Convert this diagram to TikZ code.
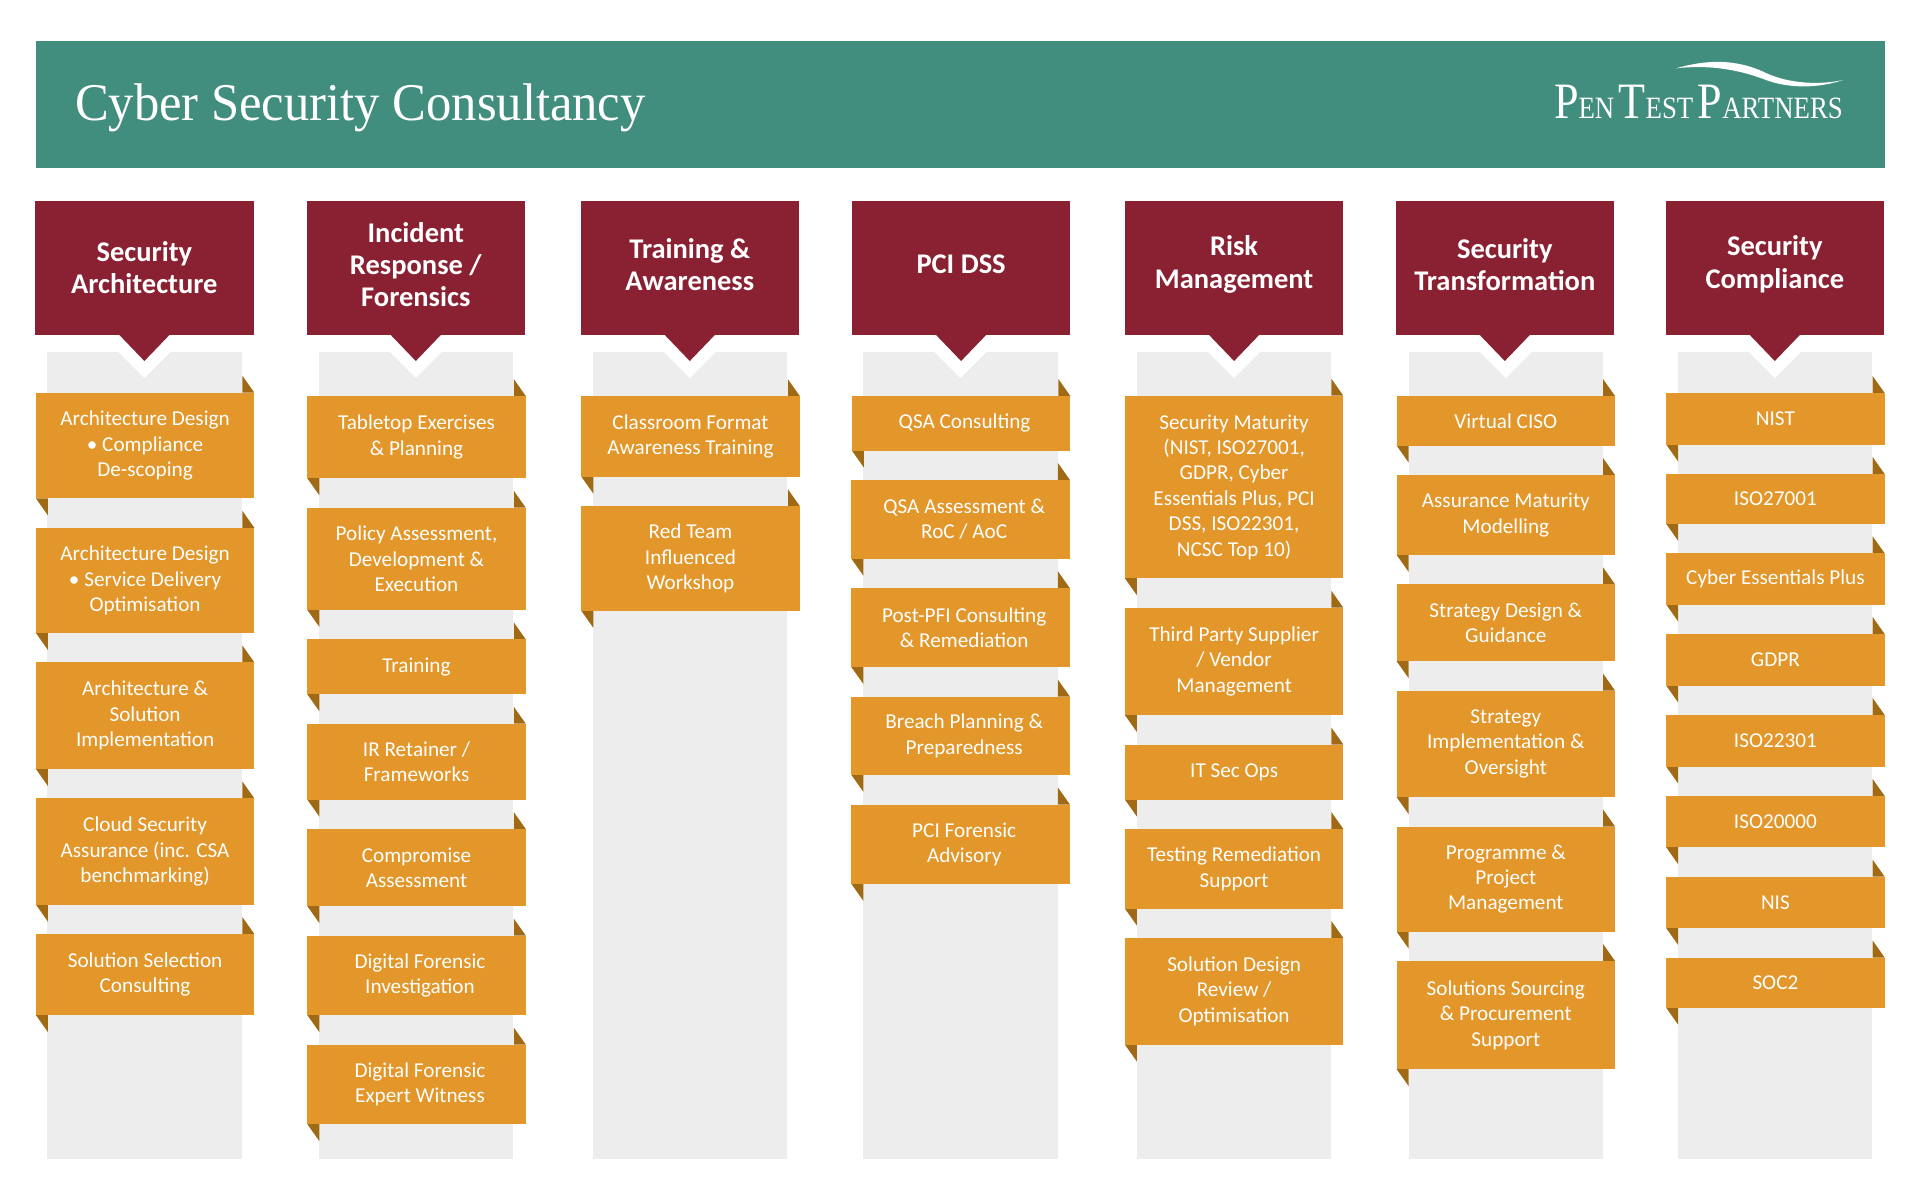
\documentclass[tikz,border=0pt]{standalone}
\usepackage{fontspec}
\setmainfont{Carlito}
\newfontfamily\titlefont[FakeStretch=0.955]{Liberation Serif}
\newfontfamily\brandfont[FakeStretch=0.865,WordSpace=0.4]{Liberation Serif}
\usepackage{xcolor}
\definecolor{teal}{HTML}{418E7E}
\definecolor{wine}{HTML}{8A2133}
\definecolor{amber}{HTML}{E39629}
\definecolor{crease}{HTML}{A06A14}
\definecolor{lanegray}{HTML}{EDEDED}
\usetikzlibrary{positioning,calc,backgrounds}
\tikzset{
  every node/.style={outer sep=0pt},
  banner/.style={fill=teal,minimum width=1849pt,minimum height=127pt,inner sep=0pt},
  maintitle/.style={text=white,inner sep=0pt,anchor=base west,font=\titlefont\fontsize{53}{60}\selectfont},
  brand/.style={text=white,inner sep=0pt,anchor=base west,font=\brandfont\fontsize{51}{60}\selectfont},
  colhead/.style={fill=wine,text=white,align=center,minimum width=218.5pt,minimum height=134pt,inner sep=0pt,
    text depth=7pt,font=\bfseries\fontsize{28.5}{32.2}\selectfont},
  lane/.style={fill=lanegray,minimum width=194.5pt,minimum height=807pt,inner sep=0pt},
  topic/.style={fill=amber,text=white,align=center,minimum width=218.5pt,minimum height=#1,inner sep=0pt,
    font=\fontsize{21.2}{25.4}\selectfont},
}
% pointer under a column head, and the white notch it leaves in the lane
\newcommand{\pointer}[1]{\fill[wine] ($(#1.south)+(-25,0)$) -- ($(#1.south)+(25,0)$) -- ($(#1.south)+(0,26)$) -- cycle;}
\newcommand{\notch}[1]{\fill[white] ($(#1.north)+(-26,0)$) -- ($(#1.north)+(26,0)$) -- ($(#1.north)+(0,26)$) -- cycle;}
% the two creases of a ribbon
\newcommand{\crease}[1]{%
  \fill[crease] (#1.north east) -- ($(#1.north east)+(-12,0)$) -- ($(#1.north east)+(-12,-17)$) -- cycle;
  \fill[crease] (#1.south west) -- ($(#1.south west)+(12,0)$) -- ($(#1.south west)+(12,17)$) -- cycle;}
\newcommand{\sm}[1]{{\fontsize{31}{31}\selectfont #1}}
\newcommand{\nudge}{\hspace*{7pt}}

\begin{document}
\begin{tikzpicture}[x=1pt,y=-1pt,node distance=29.5pt]
  \useasboundingbox (0,0) rectangle (1920,1200);
  \node[banner] (band) at (960.5,104.5) {};
  \node[maintitle] (title) at (75,120) {Cyber Security Consultancy};
  \node[brand] (logo) at (1554,118.7) {P\sm{EN} T\sm{EST} P\sm{ARTNERS}};
  \fill[white] (1676,68.3) .. controls (1705,60) and (1735,58) .. (1766,73) .. controls (1790,84) and (1820,85) .. (1843,80)
    .. controls (1820,88) and (1790,89) .. (1766,80) .. controls (1735,68) and (1705,65) .. (1676,68.3) -- cycle;

  % column heads
  \node[colhead,text depth=1pt] (sa) at (144.4,268) {Security\\Architecture};
  \node[colhead,right=52.9pt of sa] (ir) {Incident\\Response /\\Forensics};
  \node[colhead,right=55.5pt of ir] (ta) {Training \&\\Awareness};
  \node[colhead,right=52.8pt of ta] (pc) {PCI DSS};
  \node[colhead,text depth=12pt,right=54.5pt of pc] (rm) {Risk\\Management};
  \node[colhead,right=52.2pt of rm] (st) {Security\\Transformation};
  \node[colhead,text depth=12pt,right=51.5pt of st] (sc) {Security\\Compliance};
  \pointer{sa}\pointer{ir}\pointer{ta}\pointer{pc}\pointer{rm}\pointer{st}\pointer{sc}

  % security architecture
  \node[topic=105.6pt,below=57.7pt of sa,xshift=.7pt] (sa1) {Architecture Design\\• Compliance\\De-scoping};
  \node[topic=105.1pt,below=of sa1] (sa2) {Architecture Design\\• Service Delivery\\Optimisation};
  \node[topic=106.5pt,below=of sa2] (sa3) {Architecture \&\\Solution\\Implementation};
  \node[topic=106.1pt,below=of sa3] (sa4) {Cloud Security\\Assurance (inc. CSA\\benchmarking)};
  \node[topic=81pt,below=of sa4] (sa5) {Solution Selection\\Consulting};
  % incident response
  \node[topic=82.2pt,below=61pt of ir,xshift=.7pt] (ir1) {Tabletop Exercises\\\& Planning};
  \node[topic=102.1pt,below=of ir1] (ir2) {Policy Assessment,\\Development \&\\Execution};
  \node[topic=54.9pt,below=of ir2] (ir3) {Training};
  \node[topic=75.8pt,below=of ir3] (ir4) {IR Retainer /\\Frameworks};
  \node[topic=77pt,below=of ir4] (ir5) {Compromise\\Assessment};
  \node[topic=79.5pt,below=of ir5] (ir6) {\nudge Digital Forensic\\\nudge Investigation};
  \node[topic=79.5pt,below=of ir6] (ir7) {\nudge Digital Forensic\\\nudge Expert Witness};
  % training
  \node[topic=80.5pt,below=61pt of ta,xshift=.7pt] (ta1) {Classroom Format\\Awareness Training};
  \node[topic=104.7pt,below=of ta1] (ta2) {Red Team\\Influenced\\Workshop};
  % pci dss
  \node[topic=54.5pt,below=61pt of pc] (pc1) {\nudge QSA Consulting};
  \node[topic=78.8pt,below=of pc1,xshift=-.4pt] (pc2) {\nudge QSA Assessment \&\\\nudge RoC / AoC};
  \node[topic=78.9pt,below=of pc2] (pc3) {\nudge Post-PFI Consulting\\\nudge \& Remediation};
  \node[topic=78.3pt,below=of pc3] (pc4) {\nudge Breach Planning \&\\\nudge Preparedness};
  \node[topic=79.5pt,below=of pc4] (pc5) {\nudge PCI Forensic\\\nudge Advisory};
  % risk management
  \node[topic=182.5pt,below=60.7pt of rm] (rm1) {Security Maturity\\(NIST, ISO27001,\\GDPR, Cyber\\Essentials Plus, PCI\\DSS, ISO22301,\\NCSC Top 10)};
  \node[topic=107.3pt,below=of rm1] (rm2) {Third Party Supplier\\/ Vendor\\Management};
  \node[topic=55pt,below=of rm2] (rm3) {IT Sec Ops};
  \node[topic=79.5pt,below=of rm3] (rm4) {Testing Remediation\\Support};
  \node[topic=106.5pt,below=of rm4] (rm5) {Solution Design\\Review /\\Optimisation};
  % security transformation
  \node[topic=49.5pt,below=61pt of st,xshift=1pt] (st1) {Virtual CISO};
  \node[topic=79.8pt,below=of st1] (st2) {Assurance Maturity\\Modelling};
  \node[topic=76.8pt,below=of st2] (st3) {Strategy Design \&\\Guidance};
  \node[topic=106.4pt,below=of st3] (st4) {Strategy\\Implementation \&\\Oversight};
  \node[topic=105pt,below=of st4] (st5) {Programme \&\\Project\\Management};
  \node[topic=108pt,below=of st5] (st6) {Solutions Sourcing\\\& Procurement\\Support};
  % security compliance
  \node[topic=51.5pt,below=58pt of sc,xshift=.6pt] (sc1) {NIST};
  \node[topic=49.8pt,below=of sc1] (sc2) {ISO27001};
  \node[topic=51.2pt,below=of sc2] (sc3) {Cyber Essentials Plus};
  \node[topic=51.5pt,below=of sc3] (sc4) {GDPR};
  \node[topic=51.5pt,below=of sc4] (sc5) {ISO22301};
  \node[topic=51.2pt,below=of sc5] (sc6) {ISO20000};
  \node[topic=51.3pt,below=of sc6] (sc7) {NIS};
  \node[topic=50.2pt,below=of sc7] (sc8) {SOC2};

  \begin{scope}[on background layer]
    \node[lane,below=17pt of sa] (lanesa) {};
    \node[lane,below=17pt of ir] (laneir) {};
    \node[lane,below=17pt of ta] (laneta) {};
    \node[lane,below=17pt of pc,xshift=-.7pt] (lanepc) {};
    \node[lane,below=17pt of rm] (lanerm) {};
    \node[lane,below=17pt of st,xshift=1pt] (lanest) {};
    \node[lane,below=17pt of sc] (lanesc) {};
    \notch{lanesa}\notch{laneir}\notch{laneta}\notch{lanepc}\notch{lanerm}\notch{lanest}\notch{lanesc}
    \crease{sa1}\crease{sa2}\crease{sa3}\crease{sa4}\crease{sa5}
    \crease{ir1}\crease{ir2}\crease{ir3}\crease{ir4}\crease{ir5}\crease{ir6}\crease{ir7}
    \crease{ta1}\crease{ta2}
    \crease{pc1}\crease{pc2}\crease{pc3}\crease{pc4}\crease{pc5}
    \crease{rm1}\crease{rm2}\crease{rm3}\crease{rm4}\crease{rm5}
    \crease{st1}\crease{st2}\crease{st3}\crease{st4}\crease{st5}\crease{st6}
    \crease{sc1}\crease{sc2}\crease{sc3}\crease{sc4}\crease{sc5}\crease{sc6}\crease{sc7}\crease{sc8}
  \end{scope}
\end{tikzpicture}
\end{document}
